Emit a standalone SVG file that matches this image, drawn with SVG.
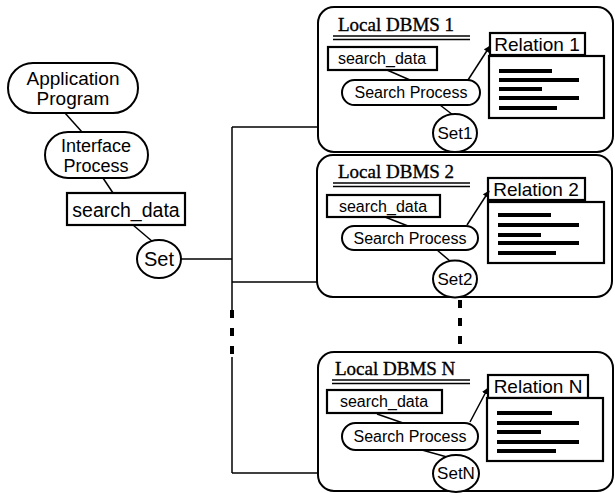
<svg xmlns="http://www.w3.org/2000/svg" width="615" height="493" viewBox="0 0 615 493">
<style>
.n{fill:#fff;stroke:#000;stroke-width:2}
.b{fill:#fff;stroke:#000;stroke-width:2.2}
.s{font-family:"Liberation Sans",Arial,sans-serif;fill:#000;text-anchor:middle}
.t{font-family:"Liberation Serif","Times New Roman",serif;fill:#000;font-size:19px;stroke:#000;stroke-width:0.35}
.c{stroke:#000;stroke-width:1.5;fill:none}
.bar{stroke:#000;stroke-width:4}
.u{stroke:#000;stroke-width:1.6}
</style>
<defs>
<marker id="ah" viewBox="0 0 10 10" refX="9" refY="5" markerWidth="7" markerHeight="7" orient="auto" markerUnits="userSpaceOnUse">
<path d="M0,0 L10,5 L0,10 z" fill="#000"/>
</marker>
</defs>
<rect width="615" height="493" fill="#fff"/>
<g id="connectors">
<line class="c" x1="65" y1="113" x2="82" y2="132"/>
<line class="c" x1="103" y1="178" x2="113" y2="193"/>
<line class="c" x1="133" y1="225" x2="153" y2="242"/>
<line class="c" x1="181" y1="259" x2="232" y2="259"/>
<line class="c" x1="232" y1="127" x2="232" y2="310"/>
<line stroke="#000" stroke-width="4" x1="232" y1="310" x2="232" y2="357" stroke-dasharray="8,10"/>
<line class="c" x1="232" y1="357" x2="232" y2="473"/>
<line class="c" x1="232" y1="127" x2="434" y2="127"/>
<line class="c" x1="232" y1="282" x2="434" y2="282"/>
<line class="c" x1="232" y1="473" x2="434" y2="473"/>
<line stroke="#000" stroke-width="4" x1="460" y1="300" x2="460" y2="348" stroke-dasharray="8,10"/>
</g>
<g id="app">
<rect class="n" x="8" y="63" width="130" height="50" rx="25"/>
<text class="s" x="73" y="85" font-size="19">Application</text>
<text class="s" x="73" y="105" font-size="19">Program</text>
</g>
<g id="iface">
<rect class="n" x="45" y="132" width="103" height="46" rx="23"/>
<text class="s" x="96" y="152" font-size="18">Interface</text>
<text class="s" x="96" y="172" font-size="18">Process</text>
</g>
<g id="sd0">
<rect class="b" x="67" y="193" width="118" height="32" stroke-width="2.5"/>
<text class="s" x="126" y="217" font-size="19.5">search_data</text>
</g>
<g id="set0">
<ellipse class="n" cx="159" cy="259" rx="22" ry="19"/>
<text class="s" x="159" y="266" font-size="20">Set</text>
</g>
<g id="dbms1">
<rect class="n" x="318" y="7" width="295" height="145" rx="16"/>
<text class="t" x="338" y="31">Local DBMS 1</text>
<line class="u" x1="333" y1="36" x2="470" y2="36"/>
<line class="u" x1="333" y1="39.5" x2="470" y2="39.5"/>
<rect class="b" x="328" y="47" width="109" height="23"/>
<text class="s" x="382" y="64" font-size="16">search_data</text>
<rect class="b" x="490" y="33" width="95" height="22"/>
<text class="s" x="537" y="51" font-size="19">Relation 1</text>
<rect class="b" x="489" y="56" width="115" height="62"/>
<line class="bar" x1="499" y1="71" x2="552" y2="71"/>
<line class="bar" x1="499" y1="80" x2="579" y2="80"/>
<line class="bar" x1="499" y1="89" x2="542" y2="89"/>
<line class="bar" x1="499" y1="98" x2="579" y2="98"/>
<line class="bar" x1="499" y1="108" x2="557" y2="108"/>
<line class="c" x1="387" y1="70" x2="410" y2="80"/>
<line class="c" x1="440" y1="105" x2="453" y2="115"/>
<rect class="n" x="342" y="80" width="138" height="25" rx="12.5"/>
<text class="s" x="411" y="98" font-size="16">Search Process</text>
<line class="c" x1="468" y1="80" x2="490" y2="46" marker-end="url(#ah)"/>
<ellipse class="n" cx="455" cy="133" rx="22" ry="19"/>
<text class="s" x="455" y="139" font-size="17">Set1</text>
</g>
<g id="dbms2">
<rect class="n" x="317" y="155" width="295" height="142" rx="16"/>
<text class="t" x="338" y="178">Local DBMS 2</text>
<line class="u" x1="333" y1="183" x2="470" y2="183"/>
<line class="u" x1="333" y1="186.5" x2="470" y2="186.5"/>
<rect class="b" x="327" y="195" width="113" height="22"/>
<text class="s" x="383" y="212" font-size="16">search_data</text>
<rect class="b" x="488" y="178" width="97" height="22"/>
<text class="s" x="536" y="196" font-size="19">Relation 2</text>
<rect class="b" x="488" y="202" width="116" height="61"/>
<line class="bar" x1="498" y1="215" x2="551" y2="215"/>
<line class="bar" x1="498" y1="225" x2="579" y2="225"/>
<line class="bar" x1="498" y1="235" x2="541" y2="235"/>
<line class="bar" x1="498" y1="243" x2="579" y2="243"/>
<line class="bar" x1="498" y1="253" x2="556" y2="253"/>
<line class="c" x1="385" y1="217" x2="408" y2="226"/>
<line class="c" x1="437" y1="250" x2="450" y2="261"/>
<rect class="n" x="342" y="226" width="136" height="24" rx="12"/>
<text class="s" x="410" y="244" font-size="16">Search Process</text>
<line class="c" x1="467" y1="225" x2="489" y2="191" marker-end="url(#ah)"/>
<ellipse class="n" cx="455" cy="279" rx="22" ry="18.5"/>
<text class="s" x="455" y="285" font-size="17">Set2</text>
</g>
<g id="dbmsN">
<rect class="n" x="318" y="352" width="295" height="139" rx="16"/>
<text class="t" x="335" y="375">Local DBMS N</text>
<line class="u" x1="332" y1="380" x2="470" y2="380"/>
<line class="u" x1="332" y1="383.5" x2="470" y2="383.5"/>
<rect class="b" x="327" y="390" width="115" height="23"/>
<text class="s" x="384" y="407" font-size="16">search_data</text>
<rect class="b" x="488" y="375" width="100" height="23"/>
<text class="s" x="538" y="393" font-size="19">Relation N</text>
<rect class="b" x="487" y="398" width="116" height="63"/>
<line class="bar" x1="497" y1="413" x2="552" y2="413"/>
<line class="bar" x1="497" y1="423" x2="579" y2="423"/>
<line class="bar" x1="497" y1="432" x2="541" y2="432"/>
<line class="bar" x1="497" y1="442" x2="579" y2="442"/>
<line class="bar" x1="497" y1="451" x2="556" y2="451"/>
<line class="c" x1="377" y1="414" x2="403" y2="423"/>
<line class="c" x1="422" y1="450" x2="447" y2="457"/>
<rect class="n" x="342" y="423" width="136" height="27" rx="13.5"/>
<text class="s" x="410" y="442" font-size="16">Search Process</text>
<line class="c" x1="470" y1="422" x2="488" y2="388" marker-end="url(#ah)"/>
<ellipse class="n" cx="456" cy="473.5" rx="23" ry="18.5"/>
<text class="s" x="456" y="479" font-size="17">SetN</text>
</g>
</svg>
